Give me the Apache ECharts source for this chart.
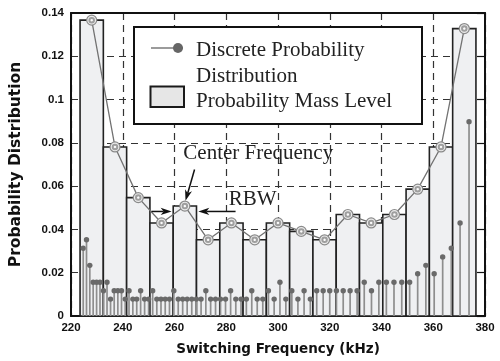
<!DOCTYPE html>
<html><head><meta charset="utf-8">
<script src="https://cdn.jsdelivr.net/npm/echarts@6/dist/echarts.min.js"></script>
<style>html,body{margin:0;padding:0;background:#fff}#c{width:500px;height:361px}</style>
</head><body><div id="c"></div>
<script>
// ---- data ----
const xTickValues = [220, 240, 260, 280, 300, 320, 340, 360, 380];
const yTickValues = [0, 0.02, 0.04, 0.06, 0.08, 0.1, 0.12, 0.14];
const binCenters = [228, 237, 246, 255, 264, 273, 282, 291, 300, 309, 318, 327, 336, 345, 354, 363, 372];
const massLevels = [0.1367, 0.0781, 0.0547, 0.0430, 0.0508, 0.0352, 0.0430, 0.0352, 0.0430, 0.0391, 0.0352, 0.0469, 0.0430, 0.0469, 0.0586, 0.0781, 0.1328];
const binWidth = 9;
const stemFreqs = [224.72, 225.99, 227.27, 228.57, 229.89, 231.21,
  232.56, 233.92, 235.29, 236.69, 238.10, 239.52, 240.96,
  242.42, 243.90, 245.40, 246.91, 248.45, 250.00,
  251.57, 253.16, 254.78, 256.41, 258.06,
  259.74, 261.44, 263.16, 264.90, 266.67, 268.46,
  270.27, 272.11, 273.97, 275.86,
  277.78, 279.72, 281.69, 283.69, 285.71,
  287.77, 289.86, 291.97, 294.12,
  296.30, 298.51, 300.75, 303.03,
  305.34, 307.69, 310.08, 312.50,
  314.96, 317.46, 320.00,
  322.58, 325.20, 327.87, 330.58,
  333.33, 336.13, 338.98,
  341.88, 344.83, 347.83,
  350.88, 353.98, 357.14,
  360.36, 363.64, 366.97,
  370.37, 373.83];
const stemProbs = [0.0313, 0.0352, 0.0234, 0.0156, 0.0156, 0.0156,
  0.0117, 0.0156, 0.0078, 0.0117, 0.0117, 0.0117, 0.0078,
  0.0117, 0.0078, 0.0078, 0.0117, 0.0078, 0.0078,
  0.0117, 0.0078, 0.0078, 0.0078, 0.0078,
  0.0117, 0.0078, 0.0078, 0.0078, 0.0078, 0.0078,
  0.0078, 0.0117, 0.0078, 0.0078,
  0.0078, 0.0078, 0.0117, 0.0078, 0.0078,
  0.0078, 0.0117, 0.0078, 0.0078,
  0.0117, 0.0078, 0.0156, 0.0078,
  0.0117, 0.0078, 0.0117, 0.0078,
  0.0117, 0.0117, 0.0117,
  0.0117, 0.0117, 0.0117, 0.0117,
  0.0156, 0.0117, 0.0156,
  0.0156, 0.0156, 0.0156,
  0.0156, 0.0195, 0.0234,
  0.0195, 0.0273, 0.0313,
  0.0430, 0.0898];
const legendLabels = ['Discrete Probability', 'Distribution', 'Probability Mass Level'];
const annotationLabels = ['Center Frequency', 'RBW'];

// ---- chart ----
const chart = echarts.init(document.getElementById('c'), null, {renderer: 'canvas'});
const sansBold = {fontFamily: 'Liberation Sans, Arial, sans-serif', fontWeight: 'bold', color: '#111'};
const titleBold = {fontFamily: 'DejaVu Sans, sans-serif', fontWeight: 'bold', color: '#111'};
const serif = 'Liberation Serif, Times New Roman, serif';

const massData = binCenters.map((c, i) => [c, massLevels[i]]);
const stemData = stemFreqs.map((f, i) => [f, stemProbs[i]]);

const dashStyle = {color: '#333', width: 1.2, type: [7, 5]};

const option = {
  animation: false,
  backgroundColor: '#fff',
  grid: {left: 67, right: 15, top: 13, bottom: 37, show: false},
  xAxis: [{
    type: 'value', min: xTickValues[0], max: xTickValues[xTickValues.length - 1], interval: 20,
    axisLine: {show: true, lineStyle: {color: '#111', width: 2}},
    axisTick: {show: false},
    axisLabel: Object.assign({fontSize: 11.5, margin: 6}, sansBold),
    splitLine: {show: true, lineStyle: dashStyle},
    name: 'Switching Frequency (kHz)', nameLocation: 'middle', nameGap: 26,
    nameTextStyle: Object.assign({fontSize: 13.5}, titleBold)
  }, {
    type: 'value', position: 'top', min: 220, max: 380, interval: 20,
    axisLine: {show: true, onZero: false, lineStyle: {color: '#111', width: 2}},
    axisTick: {show: false},
    axisLabel: {show: false}, splitLine: {show: false}
  }],
  yAxis: [{
    type: 'value', min: yTickValues[0], max: yTickValues[yTickValues.length - 1], interval: 0.02,
    axisLine: {show: true, lineStyle: {color: '#111', width: 2}},
    axisTick: {show: false},
    axisLabel: Object.assign({fontSize: 11.5, margin: 7}, sansBold),
    splitLine: {show: true, lineStyle: dashStyle},
    name: 'Probability Distribution', nameLocation: 'middle', nameGap: 47,
    nameTextStyle: Object.assign({fontSize: 15.5}, titleBold)
  }, {
    type: 'value', position: 'right', min: 0, max: 0.14, interval: 0.02,
    axisLine: {show: true, onZero: false, lineStyle: {color: '#111', width: 2}},
    axisTick: {show: true, inside: true, length: 8, lineStyle: {color: '#111', width: 1.2}},
    axisLabel: {show: false}, splitLine: {show: false}
  }],
  series: [
    {
      name: 'Probability Mass Level', type: 'custom', z: 2, clip: false,
      data: massData,
      renderItem: function (params, api) {
        const c = api.value(0), v = api.value(1);
        const p0 = api.coord([c - binWidth / 2, v]);
        const p1 = api.coord([c + binWidth / 2, 0]);
        return {type: 'rect', shape: {x: p0[0], y: p0[1], width: p1[0] - p0[0], height: p1[1] - p0[1]},
          style: {fill: '#eff0f2', stroke: '#222', lineWidth: 1.6}};
      }
    },
    {
      name: 'Discrete Probability Distribution', type: 'custom', z: 3, clip: false,
      data: stemData,
      renderItem: function (params, api) {
        const b = api.coord([api.value(0), 0]);
        const t = api.coord([api.value(0), api.value(1)]);
        return {type: 'group', children: [
          {type: 'line', shape: {x1: b[0], y1: b[1], x2: t[0], y2: t[1]}, style: {stroke: '#8e8e8e', lineWidth: 1.7}},
          {type: 'circle', shape: {cx: t[0], cy: t[1], r: 2.7}, style: {fill: '#6a6a6a'}}
        ]};
      }
    },
    {
      name: 'level line', type: 'line', z: 4, data: massData,
      symbol: 'circle', symbolSize: 10,
      lineStyle: {color: '#727272', width: 1.3},
      itemStyle: {color: '#ececec', borderColor: '#8a8a8a', borderWidth: 1.2}
    },
    {
      name: 'level inner', type: 'scatter', z: 5, data: massData,
      symbol: 'emptyCircle', symbolSize: 4.5,
      itemStyle: {color: '#8a8a8a', borderColor: '#8a8a8a', borderWidth: 1}
    }
  ]
};
chart.setOption(option);

// ---- annotations & legend ----
function px(x, y) { return chart.convertToPixel({xAxisIndex: 0, yAxisIndex: 0}, [x, y]); }
function arrow(tail, tip) {
  const dx = tip[0] - tail[0], dy = tip[1] - tail[1];
  const len = Math.sqrt(dx * dx + dy * dy);
  const ux = dx / len, uy = dy / len, nx = -uy, ny = ux;
  const L = 11, W = 3.6, N = 3;
  const back = [tip[0] - ux * L, tip[1] - uy * L];
  return [
    {type: 'line', z: 20, shape: {x1: tail[0], y1: tail[1], x2: tip[0] - ux * (L - N), y2: tip[1] - uy * (L - N)}, style: {stroke: '#111', lineWidth: 1.5}},
    {type: 'polygon', z: 20, shape: {points: [tip, [back[0] + nx * W, back[1] + ny * W], [tip[0] - ux * (L - N), tip[1] - uy * (L - N)], [back[0] - nx * W, back[1] - ny * W]]}, style: {fill: '#111'}}
  ];
}
const cfTail = px(267.75, 0.0677), cfTip = px(264.25, 0.0532);
const rlTail = px(251.1, 0.0483), rlTip = px(258.9, 0.0483);
const rrTail = px(283.6, 0.0483), rrTip = px(269.2, 0.0483);
const cfText = px(263.4, 0.0719), rbwText = px(281.0, 0.0504);

const g = [];
// legend box
g.push({type: 'rect', z: 15, shape: {x: 134, y: 27, width: 288, height: 97}, style: {fill: '#fff', stroke: '#111', lineWidth: 2}});
g.push({type: 'line', z: 16, shape: {x1: 151, y1: 48, x2: 183, y2: 48}, style: {stroke: '#7a7a7a', lineWidth: 1.5}});
g.push({type: 'circle', z: 16, shape: {cx: 178, cy: 48, r: 5}, style: {fill: '#666'}});
g.push({type: 'rect', z: 16, shape: {x: 150.5, y: 86.5, width: 33.5, height: 20.5}, style: {fill: '#e6e6e6', stroke: '#1a1a1a', lineWidth: 2}});
const legendBaselines = [57, 83.5, 108.5];
legendLabels.forEach((t, i) => g.push({type: 'text', z: 16, style: {text: t, x: 196, y: legendBaselines[i] - 7, font: '21px ' + serif, fill: '#222', verticalAlign: 'middle', align: 'left'}}));
// annotations
g.push({type: 'text', z: 20, style: {text: annotationLabels[0], x: cfText[0], y: cfText[1] - 7, font: '21px ' + serif, fill: '#222', verticalAlign: 'middle', align: 'left'}});
g.push({type: 'text', z: 20, style: {text: annotationLabels[1], x: rbwText[0], y: rbwText[1] - 7, font: '21px ' + serif, fill: '#222', verticalAlign: 'middle', align: 'left'}});
g.push.apply(g, arrow(cfTail, cfTip));
g.push.apply(g, arrow(rlTail, rlTip));
g.push.apply(g, arrow(rrTail, rrTip));
chart.setOption({graphic: g});
</script></body></html>
